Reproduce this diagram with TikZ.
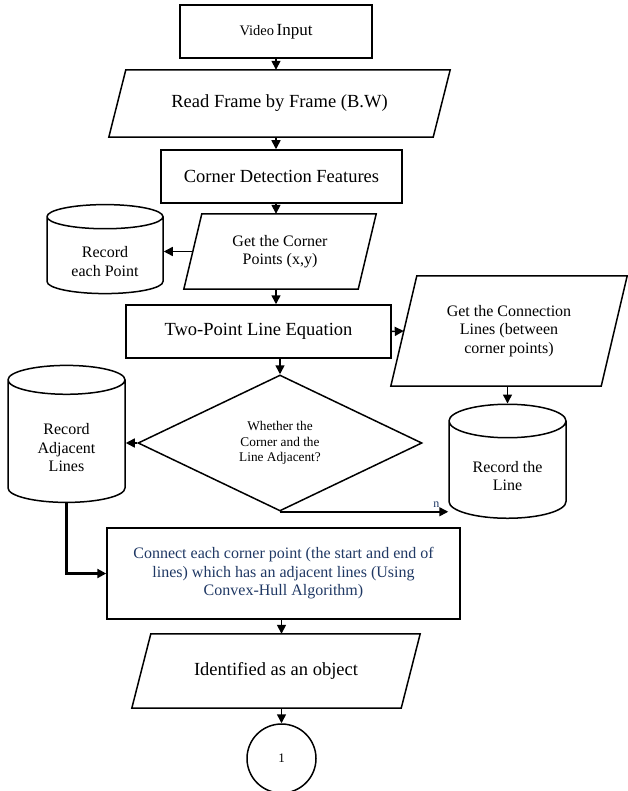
\documentclass[tikz,border=0pt]{standalone}
\usepackage{fontspec}
\setmainfont{Liberation Serif}
\usetikzlibrary{shapes.geometric,arrows.meta}
\definecolor{hulltext}{RGB}{31,56,100}
\newcommand{\lowtext}[1]{\raisebox{-8pt}[\height][\depth]{\begin{tabular}{@{}c@{}}#1\end{tabular}}}
\tikzset{
	box/.style={draw,line width=1.5pt,align=center,inner sep=0pt},
	io/.style={align=center,inner sep=0pt,append after command={\pgfextra{\draw[line width=1.5pt]
		([xshift=#1]\tikzlastnode.north west) -- ([xshift=#1]\tikzlastnode.north east) --
		([xshift=-#1]\tikzlastnode.south east) -- ([xshift=-#1]\tikzlastnode.south west) -- cycle;}}},
	store/.style={draw,line width=1.5pt,cylinder,shape border rotate=90,align=center,inner sep=0pt},
	decide/.style={draw,line width=1.5pt,diamond,align=center,inner sep=0pt},
	flow/.style={-{Triangle[length=9pt,width=9pt]},line width=1.5pt},
	bigtext/.style={font=\fontsize{18.5}{22}\selectfont},
	midtext/.style={font=\fontsize{16}{18.5}\selectfont},
	smalltext/.style={font=\fontsize{13.3}{15.5}\selectfont}
}
\begin{document}
\begin{tikzpicture}[x=1pt,y=-1pt]
			\useasboundingbox (0,0) rectangle (627,791);
			% Video Input
			\node[box,minimum width=192,minimum height=53] (video) at (276,31.5) {{\fontsize{14.5}{17}\selectfont Video} {\fontsize{17}{20}\selectfont Input}};
			% Read Frame
			\node[io=8.5,bigtext,minimum width=324,minimum height=67] (read) at (279.5,103.5) {Read Frame by Frame (B.W)};
			% Corner Detection
			\node[box,bigtext,minimum width=241,minimum height=53] (corner) at (281.5,176.5) {Corner Detection Features};
			% Corner Points
			\node[io=9,midtext,minimum width=174,minimum height=75] (pts) at (280,251.5) {Get the Corner\\Points (x,y)};
			\node[store,midtext,minimum width=116,minimum height=89,aspect=0.36] (rec) at (105,255.5) {\lowtext{Record\\each Point}};
			% Line Equation
			\node[box,bigtext,minimum width=265,minimum height=53] (two) at (258.5,331.5) {Two-Point Line Equation};
			\node[io=13,midtext,minimum width=210,minimum height=110] (conn) at (509,331) {Get the Connection\\Lines (between\\corner points)};
			% Decision
			\node[decide,smalltext,minimum width=284,minimum height=136] (dec) at (280,443) {Whether the\\Corner and the\\Line Adjacent?};
			\node[store,midtext,minimum width=117,minimum height=137,aspect=0.5] (adj) at (66.5,441.5) {\lowtext{Record\\Adjacent\\Lines}};
			\node[store,midtext,minimum width=117,minimum height=114,aspect=0.48] (line) at (507.5,470) {\lowtext{Record the\\Line}};
			% Convex Hull
			\node[box,midtext,text=hulltext,minimum width=353,minimum height=91] (hull) at (283.5,573.5) {Connect each corner point (the start and end of\\lines) which has an adjacent lines (Using\\Convex-Hull Algorithm)};
			% Object
			\node[io=9.5,bigtext,minimum width=269,minimum height=74] (obj) at (276,671) {Identified as an object};
			\node[draw,circle,line width=1.5pt,minimum size=69,font=\fontsize{13}{15}\selectfont] (one) at (281.5,758.5) {1};
			% Arrows
			\draw[flow] (video.south) -- (video.south |- read.north);
			\draw[flow] (read.south -| video.south) -- (video.south |- corner.north);
			\draw[flow] (corner.south -| video.south) -- (video.south |- pts.north);
			\draw[flow] (pts.south -| video.south) -- (video.south |- two.north);
			\draw[flow] (pts.west) -- (pts.west -| rec.east);
			\draw[flow] (two.east) -- (conn.west);
			\draw[flow] (dec.north |- two.south) -- (dec.north);
			\draw[flow] (dec.west) -- (dec.west -| adj.east);
			\draw[flow] (line.north |- conn.south) -- (line.north);
			\draw[flow] (dec.south) -- (dec.south -| line.west) node[pos=0.93,above,text=hulltext,font=\fontsize{12}{14}\selectfont] (no) {n};
			\draw[flow,line width=2.4pt] (adj.south) |- (hull.west);
			\draw[flow] (one.north |- hull.south) -- (one.north |- obj.north);
			\draw[flow] (one.north |- obj.south) -- (one.north);
\end{tikzpicture}
\end{document}
